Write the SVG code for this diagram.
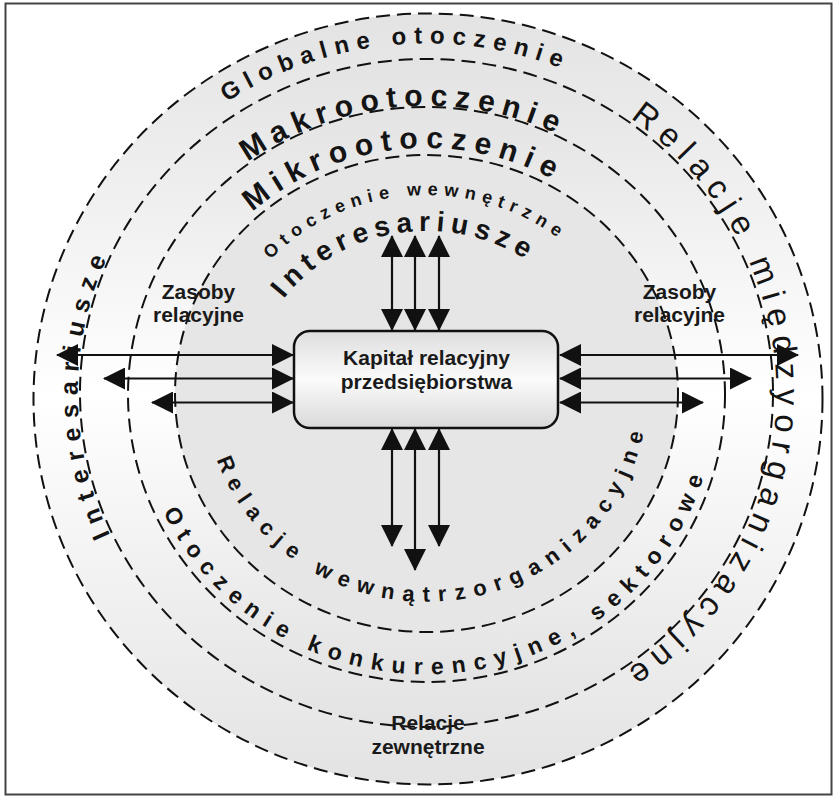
<svg xmlns="http://www.w3.org/2000/svg" width="837" height="796" viewBox="0 0 837 796">
<style>
.ring{stroke:#111;stroke-width:2;stroke-dasharray:14 7}
.ct{font-family:"Liberation Sans",Arial,sans-serif;fill:#141414}
.b{font-weight:bold}
.lbl{font-family:"Liberation Sans",Arial,sans-serif;font-weight:bold;font-size:21px;fill:#1a1a1a;text-anchor:middle}
.ar{stroke:#111;stroke-width:2.2;fill:none;marker-start:url(#ah);marker-end:url(#ah)}
</style>
<defs>
<linearGradient id="rg" x1="0" y1="0" x2="0" y2="1">
<stop offset="0" stop-color="#e3e3e3"/>
<stop offset="0.5" stop-color="#ffffff"/>
<stop offset="1" stop-color="#e3e3e3"/>
</linearGradient>
<linearGradient id="bg" x1="0" y1="0" x2="0" y2="1">
<stop offset="0" stop-color="#dedede"/>
<stop offset="0.5" stop-color="#fbfbfb"/>
<stop offset="1" stop-color="#d9d9d9"/>
</linearGradient>
<marker id="ah" viewBox="0 0 22 22" markerWidth="22" markerHeight="22" refX="21" refY="11" orient="auto-start-reverse" markerUnits="userSpaceOnUse">
<path d="M0,0 L22,11 L0,22 Z" fill="#111"/>
</marker>
<path id="p1" d="M 63.0 402.1 A 364 355.5 0 0 1 784.9 334.2"/>
<path id="p2" d="M 123.2 420.1 A 304.5 293.5 0 0 1 729.8 368.9"/>
<path id="p3" d="M 169.4 419.2 A 258.5 245.5 0 0 1 683.6 367.8"/>
<path id="p4" d="M 215.5 407.3 A 211.5 198.5 0 0 1 637.5 379.7"/>
<path id="p5" d="M 253.4 420.3 A 175.5 162.5 0 0 1 599.6 366.7"/>
<path id="p6" d="M 396.1 728.7 A 349 337 0 0 1 396.1 57.3"/>
<path id="p7" d="M 463.1 56.9 A 350 338 0 0 1 450.9 730.2"/>
<path id="p8" d="M 208.9 429.7 A 221 208.5 0 0 0 647.5 393.5"/>
<path id="p9" d="M 140.6 441.6 A 290 279.5 0 0 0 716.5 396.0"/>
</defs>
<rect x="5.5" y="3.5" width="826" height="791" fill="#fff" stroke="#444" stroke-width="2"/>
<g id="rings">
<ellipse id="ring1" class="ring" cx="428" cy="399" rx="394.5" ry="385.5" fill="url(#rg)"/>
<ellipse id="ring2" class="ring" cx="426.5" cy="393" rx="346.5" ry="334" fill="url(#rg)"/>
<ellipse id="ring3" class="ring" cx="426.5" cy="394.5" rx="298.5" ry="287.5" fill="url(#rg)"/>
<ellipse id="ring4" class="ring" cx="426.5" cy="393.5" rx="251.5" ry="238.5" fill="#e6e6e6"/>
</g>
<g id="ring-labels">
<text class="ct b" font-size="24" letter-spacing="7.5"><textPath href="#p1" startOffset="50%" text-anchor="middle">Globalne otoczenie</textPath></text>
<text class="ct b" font-size="30" letter-spacing="7.4"><textPath href="#p2" startOffset="50%" text-anchor="middle">Makrootoczenie</textPath></text>
<text class="ct b" font-size="30" letter-spacing="7.8"><textPath href="#p3" startOffset="50%" text-anchor="middle">Mikrootoczenie</textPath></text>
<text class="ct b" font-size="18" letter-spacing="6.3"><textPath href="#p4" startOffset="50%" text-anchor="middle">Otoczenie wewnętrzne</textPath></text>
<text class="ct b" font-size="28" letter-spacing="6.1"><textPath href="#p5" startOffset="50%" text-anchor="middle">Interesariusze</textPath></text>
<text class="ct b" font-size="25" letter-spacing="9"><textPath href="#p6" startOffset="50%" text-anchor="middle">Interesariusze</textPath></text>
<text class="ct" font-size="33" letter-spacing="8.6"><textPath href="#p7" startOffset="50%" text-anchor="middle">Relacje międzyorganizacyjne</textPath></text>
<text class="ct b" font-size="22" letter-spacing="8.5"><textPath href="#p8" startOffset="50%" text-anchor="middle">Relacje wewnątrzorganizacyjne</textPath></text>
<text class="ct b" font-size="23" letter-spacing="8.6"><textPath href="#p9" startOffset="50%" text-anchor="middle">Otoczenie konkurencyjne, sektorowe</textPath></text>
</g>
<g id="labels">
<text class="lbl" x="198.5" y="299">Zasoby</text>
<text class="lbl" x="198.5" y="322">relacyjne</text>
<text class="lbl" x="679.5" y="299">Zasoby</text>
<text class="lbl" x="679.5" y="322">relacyjne</text>
<text class="lbl" x="428" y="730">Relacje</text>
<text class="lbl" x="428" y="754">zewnętrzne</text>
</g>
<g id="connectors">
<line class="ar" x1="392" y1="236" x2="392" y2="330"/>
<line class="ar" x1="415" y1="236" x2="415" y2="330"/>
<line class="ar" x1="439" y1="236" x2="439" y2="330"/>
<line class="ar" x1="392" y1="429" x2="392" y2="546"/>
<line class="ar" x1="415" y1="429" x2="415" y2="570"/>
<line class="ar" x1="439" y1="429" x2="439" y2="546"/>
<line class="ar" x1="57" y1="355" x2="293" y2="355"/>
<line class="ar" x1="104" y1="378.5" x2="293" y2="378.5"/>
<line class="ar" x1="152" y1="402.5" x2="293" y2="402.5"/>
<line class="ar" x1="560" y1="355" x2="798" y2="355"/>
<line class="ar" x1="560" y1="378.5" x2="751" y2="378.5"/>
<line class="ar" x1="560" y1="402.5" x2="703" y2="402.5"/>
</g>
<g id="center">
<rect x="294" y="331" width="264" height="97" rx="16" fill="url(#bg)" stroke="#111" stroke-width="2.5"/>
<text class="lbl" x="426.5" y="365" font-size="20.5">Kapitał relacyjny</text>
<text class="lbl" x="426.5" y="389" font-size="20.5">przedsiębiorstwa</text>
</g>
</svg>
